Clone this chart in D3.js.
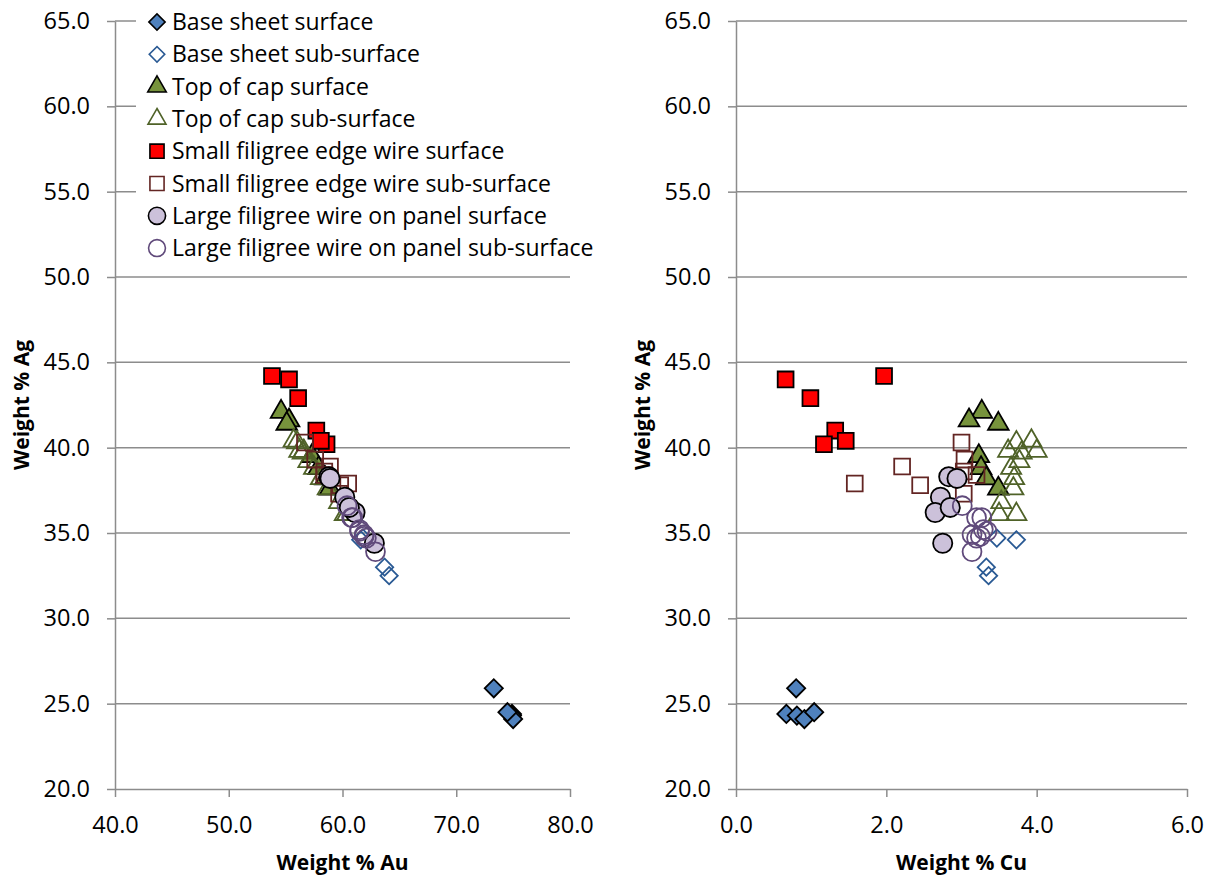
<!DOCTYPE html>
<html>
  <head>
    <meta charset="utf-8">
    <title></title>
  </head>
  <style>
  body{
      margin: 0;
      font-family: "Open Sans";
      background: #fff;
    }
  .axis path, .axis line {
      stroke: #8c8c8c;
      stroke-width: 1.5px;
    }
  .axis text {
      font-family: "Open Sans";
      font-size: 23.5px;
      fill: #000;
    }
  .grid line {
      stroke: #8c8c8c;
      stroke-width: 1.5px;
    }
  .title {
      font-family: "Open Sans";
      font-size: 21px;
      font-weight: bold;
    }
  </style>
  <script src="https://d3js.org/d3.v7.min.js"></script>
  <body>
    <script>
    // series names, in legend order
    var seriesNames = ["Base sheet surface", "Base sheet sub-surface",
                       "Top of cap surface", "Top of cap sub-surface",
                       "Small filigree edge wire surface", "Small filigree edge wire sub-surface",
                       "Large filigree wire on panel surface", "Large filigree wire on panel sub-surface"]

    // weight % values (same Ag for one analysis)
    var baseSurfAu = [73.3, 74.9, 74.9, 75.0, 74.5]
    var baseSurfCu = [0.80, 0.67, 0.81, 0.91, 1.04]
    var baseSurfAg = [25.9, 24.4, 24.3, 24.1, 24.5]

    var baseSubAu = [61.8, 61.6, 63.7, 64.1]
    var baseSubCu = [3.47, 3.73, 3.33, 3.36]
    var baseSubAg = [34.7, 34.6, 33.0, 32.5]

    var capSurfAu = [54.6, 55.3, 55.1, 57.3, 57.9, 58.5, 58.9]
    var capSurfCu = [3.27, 3.10, 3.49, 3.23, 3.26, 3.33, 3.49]
    var capSurfAg = [42.1, 41.6, 41.4, 39.5, 38.8, 38.2, 37.6]

    var capSubAu = [56.0, 55.7, 56.2, 56.6, 56.5, 57.0, 57.5, 58.1, 58.7, 59.7, 60.4, 60.2]
    var capSubCu = [3.73, 3.93, 4.00, 3.62, 3.80, 3.77, 3.66, 3.70, 3.69, 3.53, 3.50, 3.73]
    var capSubAg = [40.3, 40.4, 39.8, 39.8, 39.7, 39.2, 38.8, 38.2, 37.6, 36.8, 36.1, 36.1]

    var smallSurfAu = [55.3, 56.1, 53.8, 57.7, 58.6, 58.1]
    var smallSurfCu = [0.66, 0.99, 1.97, 1.32, 1.17, 1.46]
    var smallSurfAg = [44.0, 42.9, 44.2, 41.0, 40.2, 40.4]

    var smallSubAu = [56.7, 58.9, 59.8, 60.5, 57.6, 58.4, 58.4, 59.7]
    var smallSubCu = [3.00, 2.21, 2.45, 1.58, 3.04, 3.03, 3.20, 3.03]
    var smallSubAg = [40.3, 38.9, 37.8, 37.9, 39.3, 38.6, 38.4, 37.3]

    var largeSurfAu = [58.8, 58.9, 60.2, 61.1, 60.6, 62.8]
    var largeSurfCu = [2.83, 2.94, 2.72, 2.65, 2.85, 2.75]
    var largeSurfAg = [38.3, 38.2, 37.1, 36.2, 36.5, 34.4]

    var largeSubAu = [60.4, 60.9, 60.8, 61.5, 61.5, 61.9, 61.9, 62.1, 62.9]
    var largeSubCu = [3.01, 3.20, 3.27, 3.29, 3.34, 3.14, 3.25, 3.20, 3.14]
    var largeSubAg = [36.6, 35.9, 35.9, 35.2, 35.1, 34.9, 34.8, 34.7, 33.9]

    // tick values
    var agTicks = [20, 25, 30, 35, 40, 45, 50, 55, 60, 65]
    var auTicks = [40, 50, 60, 70, 80]
    var cuTicks = [0, 2, 4, 6]

    // marker styles
    var styles = [
      {shape: d3.symbolSquare, rot: 45, size: 165, fill: "#4f81bd", stroke: "#000"},
      {shape: d3.symbolSquare, rot: 45, size: 150, fill: "none", stroke: "#2a5a94"},
      {shape: d3.symbolTriangle, rot: 0, size: 185, fill: "#77933c", stroke: "#000"},
      {shape: d3.symbolTriangle, rot: 0, size: 175, fill: "none", stroke: "#4f6228"},
      {shape: d3.symbolSquare, rot: 0, size: 250, fill: "#ff0000", stroke: "#000"},
      {shape: d3.symbolSquare, rot: 0, size: 250, fill: "none", stroke: "#632523"},
      {shape: d3.symbolCircle, rot: 0, size: 290, fill: "#ccc1da", stroke: "#000"},
      {shape: d3.symbolCircle, rot: 0, size: 280, fill: "none", stroke: "#604a7b"}
    ]

    var seriesAu = [baseSurfAu, baseSubAu, capSurfAu, capSubAu, smallSurfAu, smallSubAu, largeSurfAu, largeSubAu]
    var seriesCu = [baseSurfCu, baseSubCu, capSurfCu, capSubCu, smallSurfCu, smallSubCu, largeSurfCu, largeSubCu]
    var seriesAg = [baseSurfAg, baseSubAg, capSurfAg, capSubAg, smallSurfAg, smallSubAg, largeSurfAg, largeSubAg]

    var width = 1215
    var height = 880
    var plotTop = 21, plotBottom = 789

    var svg = d3.select("body")
                .append("svg")
                .attr("width", width)
                .attr("height", height)

    var yScale = d3.scaleLinear().domain([20, 65]).range([plotBottom, plotTop])

    var panels = [
      {left: 115, right: 570, domain: [40, 80], ticks: auTicks, values: seriesAu, label: "Weight % Au", yLabelX: 22},
      {left: 736, right: 1187, domain: [0, 6], ticks: cuTicks, values: seriesCu, label: "Weight % Cu", yLabelX: 643}
    ]

    panels.forEach(function(p, pi){
        var xScale = d3.scaleLinear().domain(p.domain).range([p.left, p.right])
        var g = svg.append("g")

        // 横向网格线
        g.append("g")
         .attr("class", "grid")
         .selectAll("line")
         .data(agTicks.slice(1))
         .enter()
         .append("line")
         .attr("x1", p.left)
         .attr("x2", p.right)
         .attr("y1", function(d){ return yScale(d) })
         .attr("y2", function(d){ return yScale(d) })

        // y轴
        var yAxis = d3.axisLeft(yScale)
                      .tickValues(agTicks)
                      .tickSize(8)
                      .tickSizeOuter(0)
                      .tickPadding(17)
                      .tickFormat(d3.format(".1f"))
        g.append("g")
         .attr("class", "axis")
         .attr("transform", "translate(" + p.left + ",0)")
         .call(yAxis)

        // x轴
        var xAxis = d3.axisBottom(xScale)
                      .tickValues(p.ticks)
                      .tickSize(8)
                      .tickSizeOuter(0)
                      .tickPadding(19)
                      .tickFormat(d3.format(".1f"))
        g.append("g")
         .attr("class", "axis")
         .attr("transform", "translate(0," + plotBottom + ")")
         .call(xAxis)

        // axis titles
        g.append("text")
         .attr("class", "title")
         .attr("x", (p.left + p.right) / 2)
         .attr("y", 870)
         .attr("text-anchor", "middle")
         .text(p.label)

        g.append("text")
         .attr("class", "title")
         .attr("transform", "translate(" + p.yLabelX + "," + yScale(42.5) + ") rotate(-90)")
         .attr("dy", "0.35em")
         .attr("text-anchor", "middle")
         .text("Weight % Ag")

        // legend box sits on the left panel, over the grid
        if (pi == 0) {
            var legend = g.append("g")
            legend.append("rect")
                  .attr("x", 136)
                  .attr("y", 3)
                  .attr("width", 468)
                  .attr("height", 262)
                  .attr("fill", "#fff")

            var rows = legend.selectAll("g.row")
                  .data(seriesNames)
                  .enter()
                  .append("g")
                  .attr("class", "row")
                  .attr("transform", function(d, i){ return "translate(157," + (22 + i * 32.3) + ")" })

            rows.append("path")
                .attr("d", function(d, i){ return d3.symbol().type(styles[i].shape).size(styles[i].size * 0.8)() })
                .attr("transform", function(d, i){ return "rotate(" + styles[i].rot + ")" })
                .attr("fill", function(d, i){ return styles[i].fill })
                .attr("stroke", function(d, i){ return styles[i].stroke })
                .attr("stroke-width", 1.6)

            rows.append("text")
                .attr("x", 15)
                .attr("dy", "0.35em")
                .attr("font-size", "23px")
                .text(function(d){ return d })
        }

        // 散点
        seriesNames.forEach(function(name, si){
            var pts = p.values[si].map(function(v, i){ return {x: v, y: seriesAg[si][i]} })
            var st = styles[si]
            g.append("g")
             .selectAll("path")
             .data(pts)
             .enter()
             .append("path")
             .attr("d", d3.symbol().type(st.shape).size(st.size)())
             .attr("transform", function(d){
                 return "translate(" + xScale(d.x) + "," + yScale(d.y) + ") rotate(" + st.rot + ")"
             })
             .attr("fill", st.fill)
             .attr("stroke", st.stroke)
             .attr("stroke-width", 1.8)
        })
    })
    </script>
  </body>
</html>
